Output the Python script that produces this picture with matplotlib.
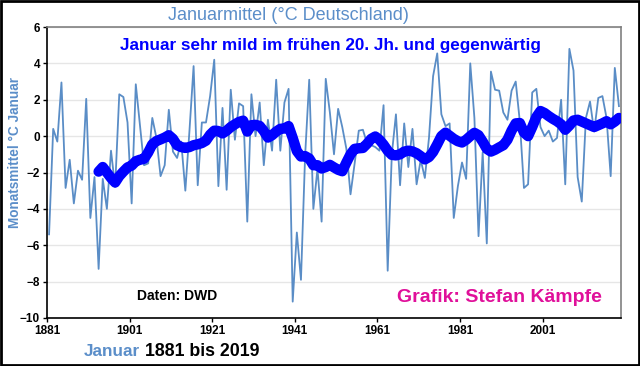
import numpy as np
import matplotlib.pyplot as plt
from matplotlib.patches import Rectangle

plt.rcParams['font.family'] = ['Liberation Sans', 'DejaVu Sans']

# Januarmittel Deutschland 1881-2019 (°C)
years = list(range(1881, 2020))
jan = [
    -5.4, 0.4, -0.3, 2.95, -2.85, -1.3, -3.7, -1.9, -2.4, 2.05,      # 1881-1890
    -4.5, -2.25, -7.3, -2.35, -4.0, -0.8, -2.8, 2.3, 2.15, 0.75,     # 1891-1900
    -3.7, 2.85, 0.6, -1.6, -1.5, 1.0, -0.1, -2.2, -1.6, 1.45,        # 1901-1910
    -0.85, -1.2, -0.3, -3.0, 0.3, 3.85, -2.7, 0.75, 0.75, 2.2,       # 1911-1920
    4.2, -2.75, 1.55, -2.95, 2.55, -0.2, 1.8, 1.65, -4.7, 2.3,       # 1921-1930
    0.0, 1.85, -1.6, 0.9, -0.8, 3.1, -0.8, 1.85, 2.6, -9.1,          # 1931-1940
    -5.3, -7.9, -1.1, 3.1, -4.0, -1.8, -4.7, 3.15, 1.3, -1.0,        # 1941-1950
    1.5, 0.5, -0.7, -3.2, -1.5, 0.3, 0.35, -0.4, -0.5, -0.6,         # 1951-1960
    -0.8, 1.7, -7.4, -1.0, 1.2, -2.7, 0.7, -1.7, 0.4, -2.65,         # 1961-1970
    -1.3, -2.3, -0.1, 3.3, 4.55, 1.2, 0.55, 0.7, -4.5, -2.75,        # 1971-1980
    -1.45, -2.35, 4.0, 1.0, -5.5, -0.9, -5.9, 3.55, 2.55, 2.5,       # 1981-1990
    1.3, 0.9, 2.5, 3.0, 0.8, -2.85, -2.65, 2.4, 2.6, 0.5,            # 1991-2000
    0.0, 0.3, -0.3, -0.1, 2.0, -2.65, 4.8, 3.6, -2.25, -3.6,         # 2001-2010
    1.0, 1.9, 0.25, 2.1, 2.2, 1.0, -2.2, 3.75, 1.65,                 # 2011-2019
]

# gleitendes Mittel (dicke Linie), 1893-2019
ma_years = list(range(1893, 2020))
ma = [
    -1.95, -1.7, -2.0, -2.3, -2.55, -2.2, -1.95, -1.72,              # 1893-1900
    -1.62, -1.38, -1.3, -1.25, -0.9, -0.45, -0.27, -0.18, -0.08, 0.05,  # 1901-1910
    -0.15, -0.5, -0.6, -0.65, -0.6, -0.5, -0.45, -0.38, -0.25, 0.08,   # 1911-1920
    0.3, 0.28, 0.15, 0.3, 0.5, 0.65, 0.78, 0.85, 0.25, 0.6,            # 1921-1930
    0.62, 0.56, 0.28, -0.08, 0.05, 0.25, 0.4, 0.42, 0.55, -0.1,        # 1931-1940
    -0.82, -1.12, -1.1, -1.23, -1.6, -1.6, -1.78, -1.7, -1.58, -1.72,  # 1941-1950
    -1.85, -1.93, -1.45, -1.0, -0.7, -0.67, -0.65, -0.42, -0.15, -0.02,  # 1951-1960
    -0.2, -0.47, -0.8, -1.03, -1.06, -1.0, -0.85, -0.8, -0.84, -0.94,  # 1961-1970
    -1.1, -1.28, -1.15, -0.87, -0.45, 0.0, 0.19, 0.02, -0.15, -0.28,   # 1971-1980
    -0.35, -0.2, 0.0, 0.18, 0.05, -0.3, -0.7, -0.85, -0.75, -0.62,     # 1981-1990
    -0.5, -0.2, 0.3, 0.7, 0.72, 0.2, 0.0, 0.5, 1.05, 1.38,             # 1991-2000
    1.27, 1.1, 0.95, 0.82, 0.65, 0.35, 0.58, 0.86, 0.9, 0.8,           # 2001-2010
    0.7, 0.6, 0.5, 0.6, 0.7, 0.82, 0.65, 0.8, 1.0,                     # 2011-2019
]

tick_years = [1881, 1901, 1921, 1941, 1961, 1981, 2001]

steel = '#5b8ec9'

fig = plt.figure(figsize=(6.4, 3.66), dpi=100)
ax = fig.add_axes([47/640, 1-318/366, 574/640, 291/366])

ax.plot(years, jan, color='#5a8dc6', linewidth=1.3, zorder=2)
ax.plot(ma_years, ma, color='#0000ff', linewidth=7.5, solid_capstyle='round',
        solid_joinstyle='round', zorder=3)

ax.set_xlim(1880.5, 2019.5)
ax.set_ylim(-10, 6)
ax.set_yticks(range(-10, 7, 2))
ax.set_xticks([y - 0.5 for y in tick_years])
ax.set_xticklabels([str(y) for y in tick_years])
ax.grid(axis='y', color='#e6e6e6', linewidth=1)
ax.set_axisbelow(True)
ax.tick_params(axis='both', direction='out', length=3, width=1, labelsize=8.5, pad=2)
for lab in ax.get_xticklabels() + ax.get_yticklabels():
    lab.set_fontweight('bold')
ax.spines['left'].set_color('black')
ax.spines['bottom'].set_color('black')
ax.spines['top'].set_color('#808080')
ax.spines['right'].set_color('#808080')
for s in ax.spines.values():
    s.set_linewidth(1.2)

# Texte
fig.text(288/640, 1-15/366, 'Januarmittel (°C Deutschland)', color=steel,
         fontsize=13, ha='center', va='center')
ax.text(0.493, 0.935, 'Januar sehr mild im frühen 20. Jh. und gegenwärtig',
        transform=ax.transAxes, color='#0000ff', fontsize=12.3,
        fontweight='bold', ha='center', va='center')
ax.text(0.157, 0.077, 'Daten: DWD', transform=ax.transAxes, color='black',
        fontsize=10, fontweight='bold', ha='left', va='center')
ax.text(0.61, 0.07, 'Grafik: Stefan Kämpfe', transform=ax.transAxes,
        color='#e0109a', fontsize=14, fontweight='bold', ha='left', va='center')
fig.text(15/640, 1-153/366, 'Monatsmittel °C Januar', color=steel, fontsize=9.8,
         fontweight='bold', rotation=90, ha='center', va='center')
fig.text(84/640, 1-352/366, 'Januar', color=steel, fontsize=12.3,
         fontweight='bold', ha='left', va='center')
fig.text(145/640, 1-352/366, '1881 bis 2019', color='black', fontsize=12.8,
         fontweight='bold', ha='left', va='center')

fig.patches.append(Rectangle((0.0015, 0.0025), 0.997, 0.995, transform=fig.transFigure,
                             fill=False, edgecolor='black', linewidth=2))

fig.savefig('out.png', dpi=100)
